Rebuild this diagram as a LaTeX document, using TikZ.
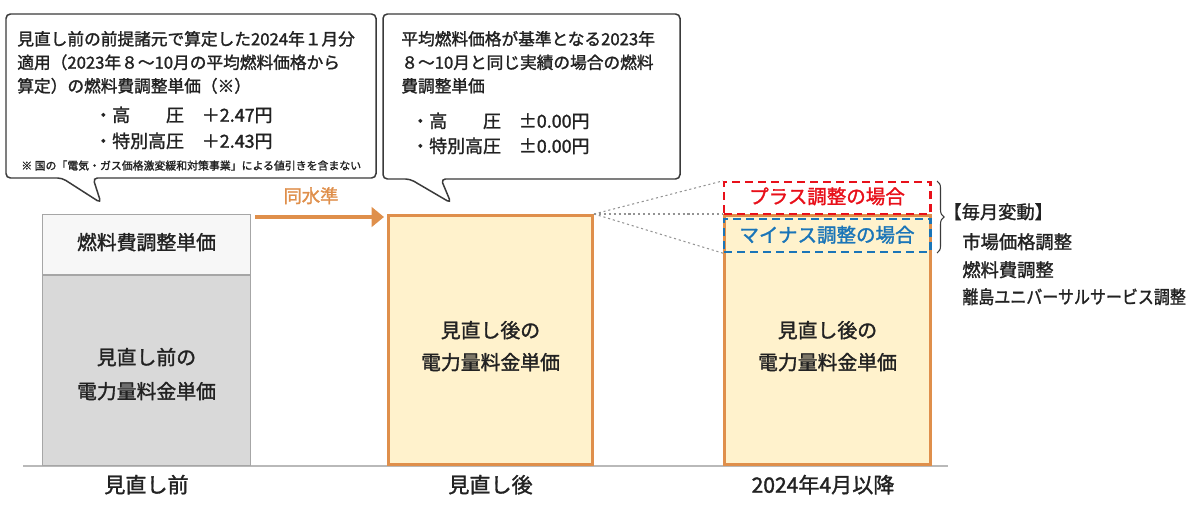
\documentclass[tikz,border=0pt]{standalone}
\usepackage{fontspec}
\setmainfont{Noto Sans CJK JP}[FakeBold=1.5]
\usetikzlibrary{arrows.meta,decorations.pathreplacing,fit}
\definecolor{txt}{HTML}{222222}
\definecolor{orng}{HTML}{DF8F4B}
\definecolor{barfill}{HTML}{FFF2CC}
\definecolor{gfillA}{HTML}{F7F7F7}
\definecolor{gfillB}{HTML}{D9D9D9}
\definecolor{gedge}{HTML}{A6A6A6}
\definecolor{redc}{HTML}{E8101A}
\definecolor{bluec}{HTML}{1A75B8}
\definecolor{calloutedge}{HTML}{3A3A3A}
\newcommand{\myfs}[1]{\fontsize{#1}{#1}\selectfont}
\begin{document}
\begin{tikzpicture}[x=0.02cm,y=-0.02cm,
  every node/.style={text=txt, inner sep=0pt, text height=0.88em, text depth=0.12em},
  boxfit/.style={inner sep=0pt, text height=, text depth=},
  callouttext/.style={anchor=west, font=\myfs{9.5}},
  valuetext/.style={anchor=west, font=\myfs{10.2}},
  bartext/.style={font=\myfs{11.3}},
  labeltext/.style={font=\myfs{12}},
  listtext/.style={anchor=west, font=\myfs{10.4}},
  callout/.style={draw=calloutedge, line width=0.85pt, fill=white, rounded corners=2.5pt},
  dotline/.style={draw=gray!85, line width=0.6pt, dash pattern=on 1.2pt off 1.6pt},
  flowarrow/.style={draw=orng, line width=2.2pt, -{Triangle[length=7pt,width=11pt]}},
]
\useasboundingbox (0,0) rectangle (1200,507);

% baseline
\coordinate (axisL) at (23,466);
\coordinate (axisR) at (948,466);
\draw[draw=gray!55, line width=0.9pt] (axisL) -- (axisR);

% left bar
\node[boxfit, fit={(42.5,214.5) (250.5,275)}, draw=gedge, fill=gfillA, line width=0.85pt] (fuelA) {};
\node[boxfit, fit={(42.5,275) (250.5,465.5)}, draw=gedge, fill=gfillB, line width=0.85pt] (energyA) {};
\node[bartext] (fuelAt) at (146.5,243) {燃料費調整単価};
\node[bartext] (energyAt1) at (146.5,358) {見直し前の};
\node[bartext] (energyAt2) at (146.5,392) {電力量料金単価};

% middle bar
\node[boxfit, fit={(388.5,215.5) (592.5,464.5)}, draw=orng, fill=barfill, line width=1.7pt] (barB) {};
\node[bartext] (barBt1) at (490.5,331) {見直し後の};
\node[bartext] (barBt2) at (490.5,363) {電力量料金単価};

% right bar
\node[boxfit, fit={(724.5,215.5) (930.5,464.5)}, draw=orng, fill=barfill, line width=1.7pt] (barC) {};
\node[bartext] (barCt1) at (827.5,331) {見直し後の};
\node[bartext] (barCt2) at (827.5,363) {電力量料金単価};

% dashed adjustment boxes
\node[boxfit, fit={(724,182) (930.5,214)}, draw=redc, line width=1.3pt, dash pattern=on 4.6pt off 2.8pt] (plus) {};
\node[boxfit, fit={(724,219) (930.5,252)}, draw=bluec, line width=1.3pt, dash pattern=on 4.6pt off 2.8pt] (minus) {};
\node[font=\myfs{11.1}, text=redc] (plust) at (827,197) {プラス調整の場合};
\node[font=\myfs{11.1}, text=bluec] (minust) at (827,235.5) {マイナス調整の場合};

% dotted guide lines
\draw[dotline] (barB.north east) -- (plus.north west);
\draw[dotline] (barB.north east) -- (barC.north west);
\draw[dotline] (barB.north east) -- (minus.south west);

% brace and monthly list
\coordinate (braceTop) at (937,181);
\coordinate (braceBot) at (937,253);
\draw[draw=calloutedge, line width=0.6pt, decorate, decoration={brace, amplitude=4pt}] (braceTop) -- (braceBot);
\node[listtext] (monthly) at (943,212) {【毎月変動】};
\node[listtext] (item1) at (962,242) {市場価格調整};
\node[listtext] (item2) at (962,270) {燃料費調整};
\node[listtext] (item3) at (962,297) {\scalebox{0.875}[1]{離島ユニバーサルサービス調整}};

% arrow "same level"
\coordinate (arrS) at (255,217);
\coordinate (arrE) at (384,217);
\draw[flowarrow] (arrS) -- (arrE);
\node[font=\myfs{10.4}, text=orng] (same) at (311,196) {同水準};

% bottom labels
\node[labeltext] (labA) at (146.5,486) {見直し前};
\node[labeltext] (labB) at (490.5,486) {見直し後};
\node[labeltext] (labC) at (823,486) {2024年4月以降};

% callout 1
\path[callout] (6,14) -- (376,14) -- (376,178) -- (93,178) -- (101,203) -- (62,178) -- (6,178) -- cycle;
\node[callouttext] (c1l1) at (17,38.5) {見直し前の前提諸元で算定した2024年１月分};
\node[callouttext] (c1l2) at (17,62) {適用（2023年８～10月の平均燃料価格から};
\node[callouttext] (c1l3) at (17,85.5) {算定）の燃料費調整単価（※）};
\node[valuetext] (c1v1) at (94,115) {・高　　圧　＋2.47円};
\node[valuetext] (c1v2) at (94,141) {・特別高圧　＋2.43円};
\node[anchor=west, font=\myfs{6.2}] (c1note) at (21,163) {※ 国の「電気・ガス価格激変緩和対策事業」による値引きを含まない};

% callout 2
\path[callout] (383,14) -- (680,14) -- (680,179) -- (441,179) -- (451,203) -- (410,179) -- (383,179) -- cycle;
\node[callouttext] (c2l1) at (401,38.5) {平均燃料価格が基準となる2023年};
\node[callouttext] (c2l2) at (401,62) {８～10月と同じ実績の場合の燃料};
\node[callouttext] (c2l3) at (401,85.5) {費調整単価};
\node[valuetext] (c2v1) at (411,121) {・高　　圧　±0.00円};
\node[valuetext] (c2v2) at (411,146) {・特別高圧　±0.00円};
\end{tikzpicture}
\end{document}
